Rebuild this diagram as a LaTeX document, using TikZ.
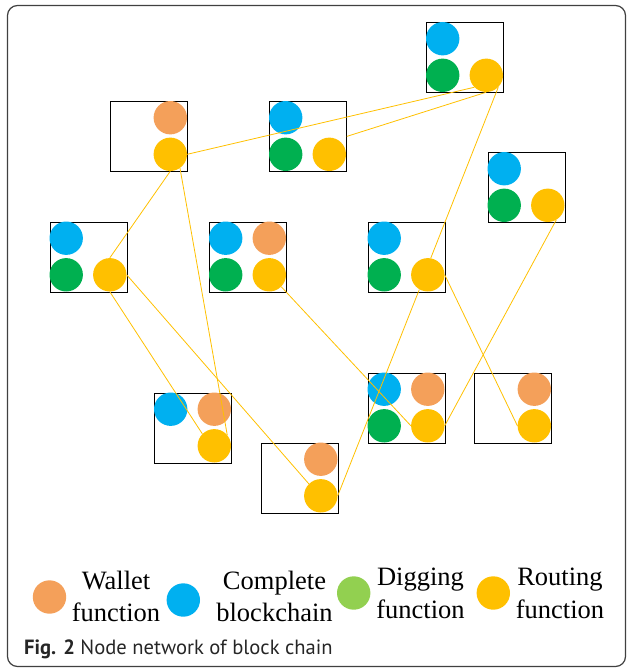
\documentclass[tikz,border=0pt]{standalone}
\usepackage{fontspec}
\setmainfont{Liberation Serif}
\newfontfamily\capfont{PT Sans}
\usepackage{tikz}
\definecolor{walletclr}{HTML}{F4A05A}
\definecolor{chainclr}{HTML}{00B0F0}
\definecolor{digclr}{HTML}{00B050}
\definecolor{diglegend}{HTML}{92D050}
\definecolor{routeclr}{HTML}{FFC000}

\begin{document}
\begin{tikzpicture}[x=1pt, y=-1pt,
		peer/.style={draw, line width=.8pt, minimum width=77pt, minimum height=70pt, inner sep=0pt, anchor=north west},
		dot/.style={circle, minimum size=33.4pt, inner sep=0pt},
		link/.style={draw=routeclr, line width=.8pt},
		keytext/.style={font=\fontsize{26.5}{32.4}\selectfont, align=center, anchor=base}]
				\useasboundingbox (0,0) rectangle (627,669);
				\draw[rounded corners=10pt, line width=1.2pt, draw=black!75] (7.5,5.5) rectangle (625.5,666.5);
				\foreach \n/\x/\y in {a/426/22, b/487.5/152, c/110/101, d/269/101, e/49.5/221.5, f/209/221.5, g/367.5/221.5, h/154/392.5, i/260.5/442.5, j/367.5/372.5, k/474/372.5} {
					\node[peer] (\n) at (\x,\y) {};
					\node[dot, fill=routeclr] (\n-route) at (\x+60.3,\y+53.3) {};
				}
				\foreach \n in {a,b,d,e,f,g,h,j}
					\node[dot, fill=chainclr] (\n-chain) at ([shift={(16.7,16.7)}]\n.north west) {};
				\foreach \n in {a,b,d,e,f,g,j}
					\node[dot, fill=digclr] (\n-dig) at ([shift={(16.7,53.3)}]\n.north west) {};
				\foreach \n in {c,f,h,i,j,k}
					\node[dot, fill=walletclr] (\n-wallet) at ([shift={(60.3,16.7)}]\n.north west) {};
				\foreach \s/\t in {c-route.east/a-route.south west, d.east/a-route.south, a-route.south east/g-route.80, c-route.south/e-route.north, c-route.-55/h-route.40, e-route.east/i-route.north west, e-route.south/h-route.north west, f-route.south east/j-route.west, g-route.-120/i-route.east, g-route.east/k-route.west, b-route.-60/j-route.east}
					\draw[link] (\s) -- (\t);
				\node[dot, fill=walletclr] (key-wallet) at (49.5,597) {};
				\node[keytext] (txt-wallet) at (116,621.7) {Wallet\\function};
				\node[dot, fill=chainclr] (key-chain) at (183.3,600) {};
				\node[keytext] (txt-chain) at (274.5,621.7) {Complete\\blockchain};
				\node[dot, fill=diglegend] (key-dig) at (353.7,593) {};
				\node[keytext] (txt-dig) at (420.5,618.3) {Digging\\function};
				\node[dot, fill=routeclr] (key-route) at (493.3,593) {};
				\node[keytext] (txt-route) at (560,618.3) {Routing\\function};
				\node[anchor=base west, inner sep=0pt, text=black!85, font=\capfont\fontsize{20.6}{24}\selectfont] (caption) at (24,654.3) {\textbf{Fig. 2} Node network of block chain};
			\end{tikzpicture}
\end{document}
